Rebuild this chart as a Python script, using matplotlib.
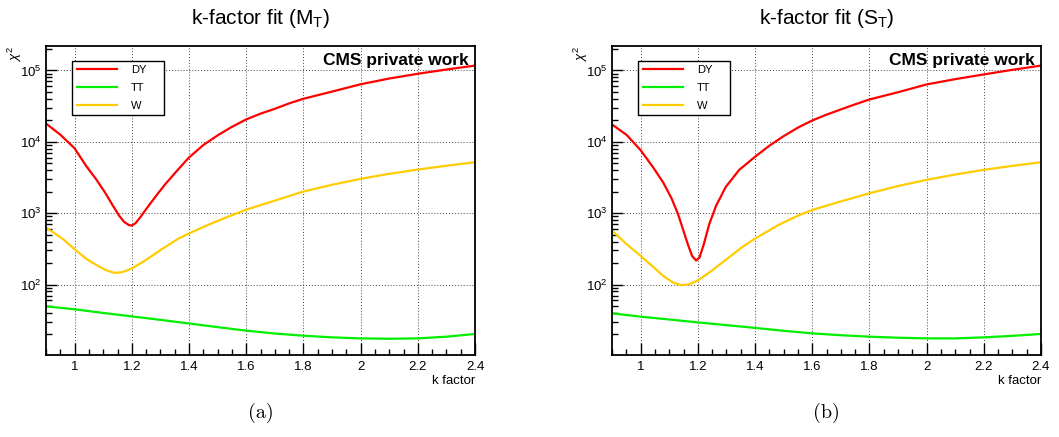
import matplotlib
matplotlib.use('Agg')
import matplotlib.pyplot as plt
from matplotlib.ticker import MultipleLocator, FormatStrFormatter, LogLocator

plt.rcParams['font.family'] = ['Liberation Sans', 'DejaVu Sans']
plt.rcParams['mathtext.fontset'] = 'custom'
plt.rcParams['mathtext.rm'] = 'Liberation Sans'
plt.rcParams['mathtext.it'] = 'Liberation Sans:italic'

# chi2 vs k factor
# --- M_T fit ---
k_dy_mt = [0.90, 0.95, 1.00, 1.04, 1.075, 1.11, 1.133, 1.156, 1.173, 1.19, 1.20, 1.213,
           1.231, 1.248, 1.282, 1.317, 1.363, 1.40, 1.45, 1.50, 1.55, 1.60, 1.65, 1.70,
           1.75, 1.80, 1.90, 2.00, 2.10, 2.20, 2.30, 2.40]
dy_mt = [18000, 12600, 8100, 4610, 3000, 1850, 1290, 918, 756, 680, 671, 724,
         889, 1110, 1690, 2550, 4140, 6030, 9000, 12300, 16200, 20600, 24800, 29000,
         34500, 40100, 50500, 64000, 77000, 89800, 103000, 117000]

k_w_mt = [0.90, 0.96, 1.00, 1.04, 1.075, 1.11, 1.138, 1.167, 1.20, 1.248, 1.305, 1.363,
          1.40, 1.45, 1.49, 1.55, 1.60, 1.70, 1.80, 1.90, 2.00, 2.10, 2.20, 2.30, 2.40]
w_mt = [630, 432, 313, 231, 189, 159, 146, 149, 168, 219, 313, 440,
        520, 640, 750, 937, 1120, 1500, 2010, 2500, 3030, 3560, 4080, 4620, 5170]

k_tt = [0.9, 1.0, 1.1, 1.2, 1.3, 1.4, 1.5, 1.6, 1.7, 1.8, 1.9, 2.0, 2.1, 2.2, 2.3, 2.4]
tt_mt = [49.5, 45, 40, 35.8, 32, 28.5, 25.3, 22.6, 20.6, 19.2, 18.2, 17.6, 17.4, 17.6, 18.6, 20.3]

# --- S_T fit ---
k_dy_st = [0.90, 0.951, 1.00, 1.044, 1.079, 1.108, 1.131, 1.148, 1.165, 1.18, 1.194, 1.206,
           1.221, 1.24, 1.264, 1.298, 1.345, 1.40, 1.45, 1.50, 1.55, 1.60, 1.65, 1.70,
           1.75, 1.80, 1.90, 2.00, 2.10, 2.20, 2.30, 2.40]
dy_st = [17500, 12500, 7640, 4370, 2690, 1620, 968, 597, 368, 252, 217, 239,
         368, 701, 1270, 2340, 4050, 6160, 8800, 12000, 15800, 19900, 24000, 28400,
         33500, 39200, 49500, 63700, 75500, 87900, 102000, 117000]

k_w_st = [0.90, 0.951, 1.00, 1.044, 1.079, 1.113, 1.142, 1.171, 1.198, 1.24, 1.298, 1.356,
          1.40, 1.483, 1.55, 1.60, 1.70, 1.80, 1.90, 2.00, 2.10, 2.20, 2.30, 2.40]
w_st = [570, 368, 252, 177, 132, 107, 98, 101, 113, 147, 222, 337,
        440, 686, 925, 1110, 1460, 1900, 2400, 2930, 3480, 4050, 4600, 5170]

tt_st = [39.5, 35.5, 32.4, 29.5, 27, 24.7, 22.5, 20.7, 19.5, 18.6, 18.0, 17.6, 17.6, 18.2, 19.1, 20.3]

panels = [
    ('k-factor fit (M$_{\\mathrm{T}}$)', '(a)', k_dy_mt, dy_mt, tt_mt, k_w_mt, w_mt),
    ('k-factor fit (S$_{\\mathrm{T}}$)', '(b)', k_dy_st, dy_st, tt_st, k_w_st, w_st),
]

W, H = 1059, 437
fig = plt.figure(figsize=(W / 100, H / 100), dpi=100)
lefts = [46, 612]

for left, (title, tag, k_dy, dy, tt, k_w, w) in zip(lefts, panels):
    ax = fig.add_axes([left / W, 1 - 355 / H, 429 / W, 309 / H])
    ax.plot(k_dy, dy, color='#ff0000', lw=1.6, label='DY')
    ax.plot(k_tt, tt, color='#00ee00', lw=1.6, label='TT')
    ax.plot(k_w, w, color='#ffcc00', lw=1.6, label='W')

    ax.set_yscale('log')
    ax.set_xlim(0.9, 2.4)
    ax.set_ylim(10.3, 2.2e5)
    ax.xaxis.set_major_locator(MultipleLocator(0.2))
    ax.xaxis.set_minor_locator(MultipleLocator(0.05))
    ax.xaxis.set_major_formatter(FormatStrFormatter('%g'))
    ax.yaxis.set_major_locator(LogLocator(base=10))
    ax.yaxis.set_minor_locator(LogLocator(base=10, subs=range(2, 10)))

    ax.grid(True, which='major', color='#444444', linestyle=(0, (1, 2)), lw=0.7)
    ax.tick_params(which='both', direction='in', top=False, right=False,
                   labelsize=9.5, width=1)
    ax.tick_params(axis='x', which='major', length=9, pad=4)
    ax.tick_params(axis='x', which='minor', length=4.5)
    ax.tick_params(axis='y', which='major', length=8, pad=3)
    ax.tick_params(axis='y', which='minor', length=4)
    for sp in ax.spines.values():
        sp.set_linewidth(1.3)

    ax.set_xlabel('k factor', loc='right', fontsize=9.5, labelpad=2)
    fig.text((left - 31) / W, 1 - 46 / H, '$\\chi^2$', rotation=90,
             ha='center', va='top', fontsize=9.5)

    ax.text(0.985, 0.978, 'CMS private work', transform=ax.transAxes,
            ha='right', va='top', fontsize=12.5, fontweight='bold')

    leg = ax.legend(loc='upper left', bbox_to_anchor=(0.061, 0.775, 0.215, 0.178),
                    mode='expand', fontsize=8,
                    frameon=True, fancybox=False, framealpha=1, edgecolor='black',
                    handlelength=3.6, handletextpad=1.3, labelspacing=0.7,
                    borderpad=0.4, borderaxespad=0)
    leg.get_frame().set_linewidth(1.0)

    cx = (left + 429 / 2) / W
    fig.text(cx, 1 - 19 / H, title, ha='center', va='center', fontsize=15)
    fig.text(cx, 1 - 413 / H, tag, ha='center', va='center', fontsize=14.5,
             family='cmr10')

fig.savefig('out.png', dpi=100, facecolor='white')
